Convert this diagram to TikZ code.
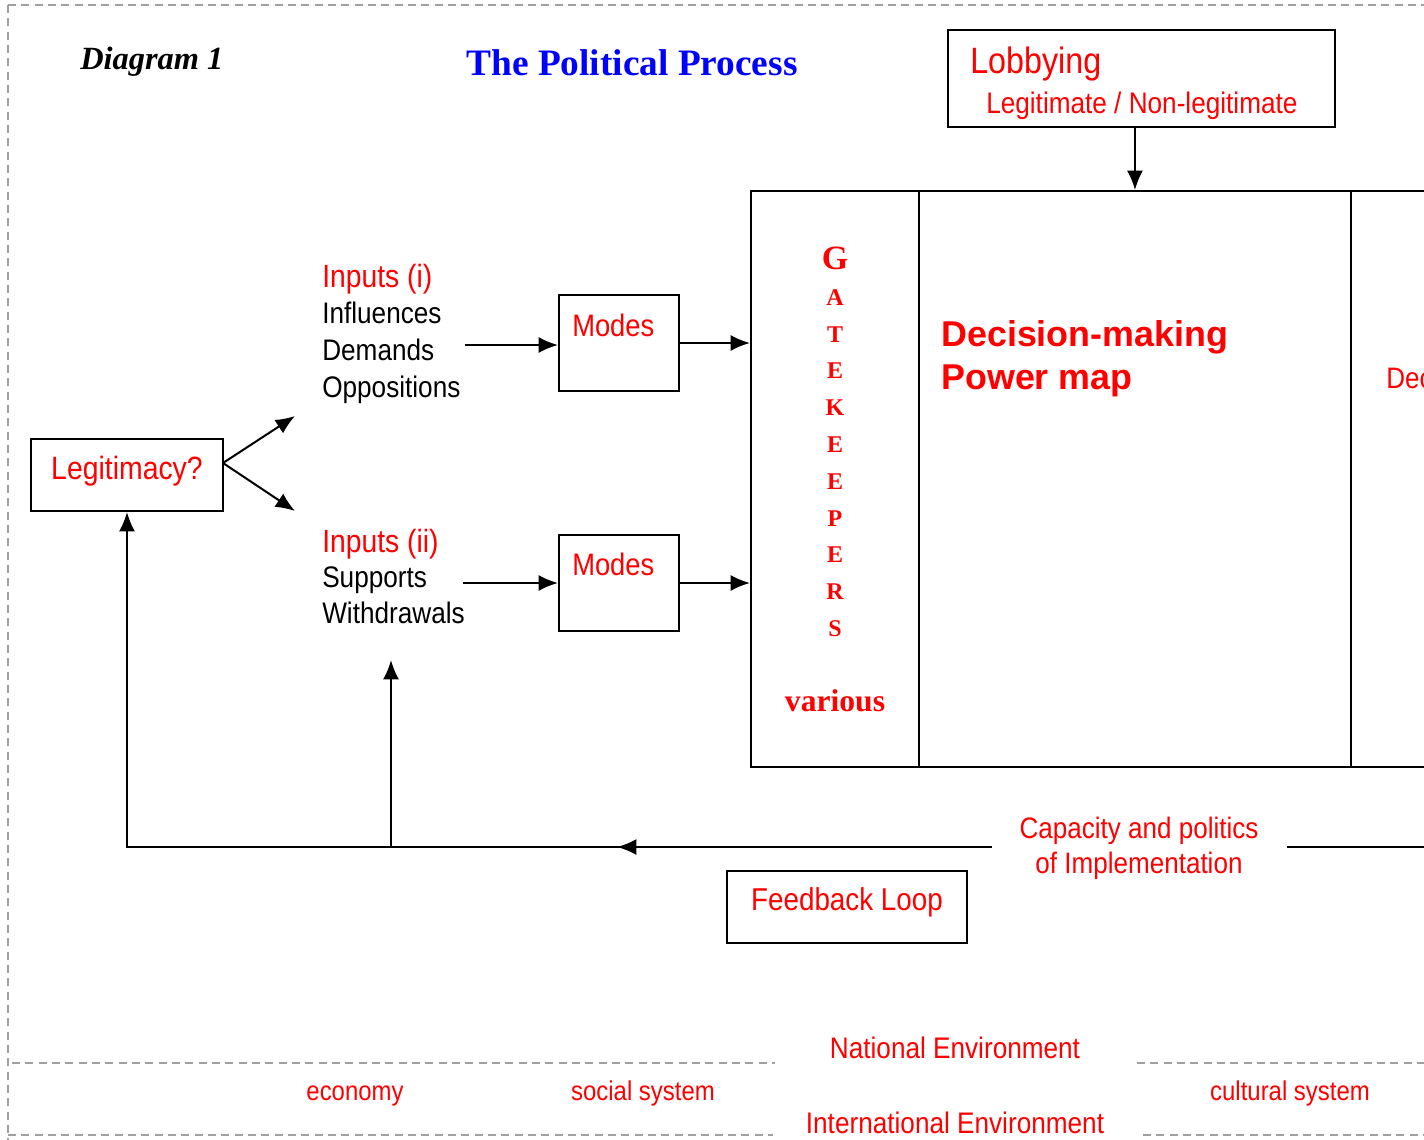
\documentclass[tikz,border=0pt]{standalone}
\usepackage{fontspec}
\setmainfont{Liberation Serif}
\newfontfamily\arial{Liberation Sans}
\newfontfamily\narrow[FakeStretch=0.88]{Liberation Sans}
\usetikzlibrary{arrows.meta,fit}
\newcommand{\fsz}[1]{\fontsize{#1}{#1}\selectfont}
\definecolor{dgray}{RGB}{160,160,160}
\definecolor{pred}{RGB}{255,0,0}
\definecolor{pblue}{RGB}{0,0,255}
\tikzset{
  box/.style={draw=black, line width=1.5pt, inner sep=0pt},
  arr/.style={line width=1.5pt, -{Latex[length=14.5pt,width=12pt]}},
  ln/.style={line width=1.5pt},
  dline/.style={draw=dgray, line width=1.4pt, dash pattern=on 6pt off 4pt},
  lbl/.style={inner sep=0pt, anchor=base west, font=\narrow\fsz{22.3}},
  rlbl/.style={lbl, text=pred},
  clbl/.style={inner sep=0pt, anchor=base, font=\narrow\fsz{22.2}, text=pred},
  gk/.style={inner sep=0pt, anchor=base, text=pred, font=\bfseries\fsz{18}},
}
\begin{document}
\begin{tikzpicture}[x=0.75pt, y=-0.75pt]
\useasboundingbox (0,0) rectangle (1424,1139);
\clip (0,0) rectangle (1424,1139);
\fill[white] (0,0) rectangle (1424,1139);

% dashed frame
\draw[dline] (8,5) -- (1430,5);
\draw[dline] (8,5) -- (8,1145);
\draw[dline] (12,1063) -- (775,1063);
\draw[dline] (1137,1063) -- (1430,1063);
\draw[dline] (8,1135) -- (773,1135);
\draw[dline] (1143,1135) -- (1430,1135);

% headings
\node[inner sep=0pt, anchor=base west, font=\bfseries\itshape\fsz{24.3}] (diag) at (80,69) {Diagram 1};
\node[inner sep=0pt, anchor=base, font=\bfseries\fsz{28}, text=pblue] (title) at (632,75) {The Political Process};

% lobbying
\node[box, fit={(948,30) (1335,127)}] (lob) {};
\node[rlbl, font=\narrow\fsz{27.5}] (lobt) at (970,73) {Lobbying};
\node[rlbl, font=\narrow\fsz{22.3}] (legt) at (986,113) {Legitimate / Non-legitimate};

% big box
\node[box, fit={(751,191) (919,767)}] (gate) {};
\node[box, fit={(919,191) (1351,767)}] (dm) {};
\node[box, fit={(1351,191) (1500,767)}] (dec) {};

\node[gk, font=\bfseries\fsz{25.5}] (g1) at (835,269.5) {G};
\node[gk] (g2) at (835,305) {A};
\node[gk] (g3) at (835,342) {T};
\node[gk] (g4) at (835,378) {E};
\node[gk] (g5) at (835,415) {K};
\node[gk] (g6) at (835,452) {E};
\node[gk] (g7) at (835,489) {E};
\node[gk] (g8) at (835,526) {P};
\node[gk] (g9) at (835,562) {E};
\node[gk] (g10) at (835,599) {R};
\node[gk] (g11) at (835,636) {S};
\node[gk, font=\bfseries\fsz{23.7}] (various) at (835,711) {various};

\node[rlbl, font=\arial\bfseries\fsz{26.9}] (dmt1) at (941,346) {Decision-making};
\node[rlbl, font=\arial\bfseries\fsz{26.9}] (dmt2) at (941,389) {Power map};
\node[rlbl, font=\narrow\fsz{22.2}] (dect) at (1386,388) {Dec};

% inputs
\node[rlbl, font=\narrow\fsz{24.1}] (in1) at (322,287) {Inputs (i)};
\node[lbl] (infl) at (322,323) {Influences};
\node[lbl] (dem) at (322,360) {Demands};
\node[lbl] (opp) at (322,397) {Oppositions};

\node[rlbl, font=\narrow\fsz{24.1}] (in2) at (322,552) {Inputs (ii)};
\node[lbl] (sup) at (322,587) {Supports};
\node[lbl] (wd) at (322,623) {Withdrawals};

% modes
\node[box, fit={(559,295) (679,391)}] (m1) {};
\node[rlbl, font=\narrow\fsz{23.3}] (m1t) at (572,336) {Modes};
\node[box, fit={(559,535) (679,631)}] (m2) {};
\node[rlbl, font=\narrow\fsz{23.3}] (m2t) at (572,575) {Modes};

% legitimacy
\node[box, fit={(31,439) (223,511)}] (legit) {};
\node[inner sep=0pt, anchor=base, font=\narrow\fsz{24.2}, text=pred] (legitt) at (127,479) {Legitimacy?};

% feedback
\node[box, fit={(727,871) (967,943)}] (fb) {};
\node[inner sep=0pt, anchor=base, font=\narrow\fsz{23.7}, text=pred] (fbt) at (847,910) {Feedback Loop};
\node[clbl] (cap1) at (1139,838) {Capacity and politics};
\node[clbl] (cap2) at (1139,873) {of Implementation};

% environment
\node[clbl, font=\narrow\fsz{22.3}] (nat) at (955,1058) {National Environment};
\node[clbl, font=\narrow\fsz{22.3}] (intl) at (955,1133) {International Environment};
\node[clbl, font=\narrow\fsz{20.4}] (eco) at (355,1100) {economy};
\node[clbl, font=\narrow\fsz{20.4}] (soc) at (643,1100) {social system};
\node[clbl, font=\narrow\fsz{20.4}] (cul) at (1290,1100) {cultural system};

% coordinates
\coordinate (apex) at (223,463);
\coordinate (up1) at (295,416);
\coordinate (dn1) at (295,511);
\coordinate (a1s) at (465,345);
\coordinate (a2s) at (463,583);
\coordinate (fbR) at (1287,847);
\coordinate (fbRR) at (1430,847);
\coordinate (fbL) at (992,847);
\coordinate (corner) at (127,847);
\coordinate (mid) at (391,847);
\coordinate (in2up) at (391,660);
\coordinate (ahS) at (687,847);
\coordinate (ahE) at (617,847);

% connectors
\draw[arr] ([xshift=-4.9pt]lob.south) -- ([xshift=-4.9pt]lob.south |- dm.north);
\draw[arr] (apex) -- (up1);
\draw[arr] (apex) -- (dn1);
\draw[arr] (a1s) -- (a1s -| m1.west);
\draw[arr] (a2s) -- (a2s -| m2.west);
\draw[arr] (m1.east) -- (m1.east -| gate.west);
\draw[arr] (m2.east) -- (m2.east -| gate.west);
\draw[ln] (fbR) -- (fbRR);
\draw[arr] (fbL) -- (corner) -- (legit.south);
\draw[arr] (mid) -- (in2up);
\draw[arr] (ahS) -- (ahE);
\end{tikzpicture}
\end{document}
